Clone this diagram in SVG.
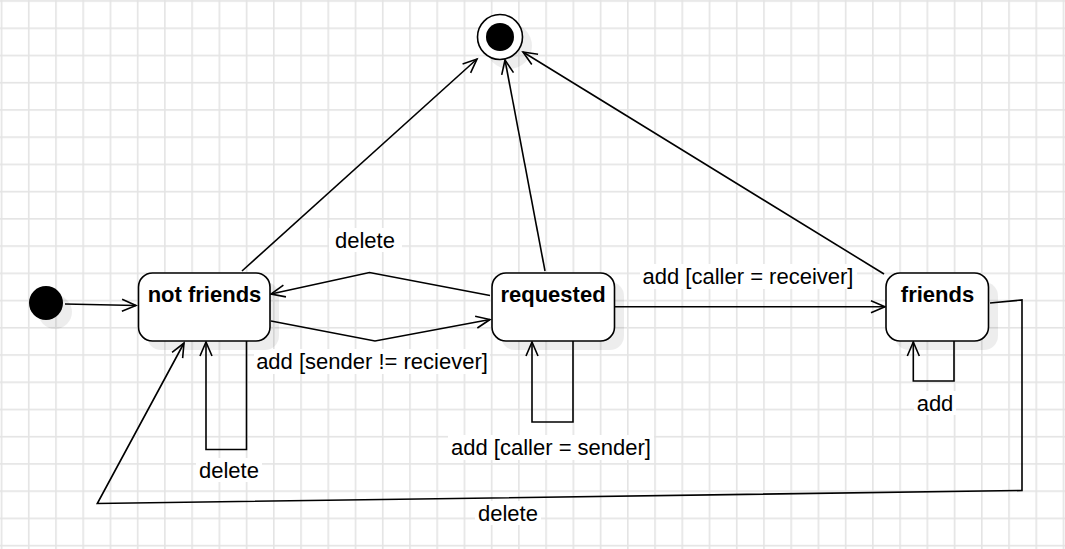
<svg xmlns="http://www.w3.org/2000/svg" width="1065" height="549" viewBox="0 0 1065 549">
<style>
.node{fill:#fff;stroke:#000;stroke-width:1.6}
.shadow{fill:#000;fill-opacity:0.07}
.edge{fill:none;stroke:#000;stroke-width:1.6}
.title{font-family:"Liberation Sans",Arial,sans-serif;font-size:22px;font-weight:bold;text-anchor:middle;fill:#000}
.lbl{font-family:"Liberation Sans",Arial,sans-serif;font-size:22px;text-anchor:middle;fill:#000}
.lblbg{fill:#fff}
</style>
<defs>
<pattern id="grid" patternUnits="userSpaceOnUse" x="0.7" y="0.2" width="27.23" height="27.23">
<rect x="0" y="0" width="1.6" height="27.23" fill="#e4e4e4"/>
<rect x="0" y="0" width="27.23" height="1.6" fill="#e4e4e4"/>
</pattern>
<marker id="open" markerUnits="userSpaceOnUse" viewBox="-16 -8 18 16" refX="0" refY="0" markerWidth="18" markerHeight="16" orient="auto" overflow="visible">
<path d="M-14,-6 L0,0 L-14,6" fill="none" stroke="#000" stroke-width="1.6"/>
</marker>
</defs>
<rect width="1065" height="549" fill="#fff"/>
<rect width="1065" height="549" fill="url(#grid)"/>

<g id="edges">
<path class="edge" d="M65,304 L136,305.5" marker-end="url(#open)"/>
<path class="edge" d="M242,271 L477,59" marker-end="url(#open)"/>
<path class="edge" d="M545,271 L505,60" marker-end="url(#open)"/>
<path class="edge" d="M884,274 L523,52" marker-end="url(#open)"/>
<path class="edge" d="M490,295.5 L369.5,272.5 L271,294" marker-end="url(#open)"/>
<path class="edge" d="M271,321 L375,341 L490,319.5" marker-end="url(#open)"/>
<path class="edge" d="M615,306.7 L885,306.7" marker-end="url(#open)"/>
<path class="edge" d="M246.5,341 V449.5 H206 V342" marker-end="url(#open)"/>
<path class="edge" d="M573,341 V422 H532 V342" marker-end="url(#open)"/>
<path class="edge" d="M954,341 V381 H913.3 V342" marker-end="url(#open)"/>
<path class="edge" d="M990,303 L1022,300 V490.5 L97.3,503.5 L184,343" marker-end="url(#open)"/>

<rect class="lblbg" x="329" y="228" width="73" height="24"/>
<text class="lbl" x="365" y="248">delete</text>
<rect class="lblbg" x="254" y="349" width="236" height="25"/>
<text class="lbl" x="372" y="369">add [sender != reciever]</text>
<rect class="lblbg" x="640" y="264" width="217" height="25"/>
<text class="lbl" x="748" y="284">add [caller = receiver]</text>
<rect class="lblbg" x="196" y="458" width="66" height="24"/>
<text class="lbl" x="229" y="478">delete</text>
<rect class="lblbg" x="448" y="435" width="206" height="25"/>
<text class="lbl" x="551" y="455">add [caller = sender]</text>
<rect class="lblbg" x="914" y="391" width="42" height="24"/>
<text class="lbl" x="935" y="411">add</text>
<rect class="lblbg" x="475" y="501" width="66" height="24"/>
<text class="lbl" x="508" y="521">delete</text>
</g>

<g id="initial">
<circle class="shadow" cx="55" cy="312" r="17"/>
<circle cx="46" cy="303" r="17" fill="#000"/>
</g>

<g id="final">
<circle class="shadow" cx="509" cy="46" r="23"/>
<circle class="node" cx="500" cy="37" r="22.5"/>
<circle cx="500" cy="37" r="14" fill="#000"/>
</g>

<g id="not-friends">
<rect class="shadow" x="147" y="282" width="132" height="68" rx="14"/>
<rect class="node" x="138.5" y="273" width="131.5" height="68" rx="14"/>
<text class="title" x="204.5" y="302">not friends</text>
</g>

<g id="requested">
<rect class="shadow" x="501" y="282" width="123" height="68" rx="14"/>
<rect class="node" x="492" y="273" width="122.5" height="68" rx="14"/>
<text class="title" x="553" y="302">requested</text>
</g>

<g id="friends">
<rect class="shadow" x="895" y="282" width="103" height="68" rx="14"/>
<rect class="node" x="886" y="273" width="102.5" height="68" rx="14"/>
<text class="title" x="937.5" y="302">friends</text>
</g>
</svg>
